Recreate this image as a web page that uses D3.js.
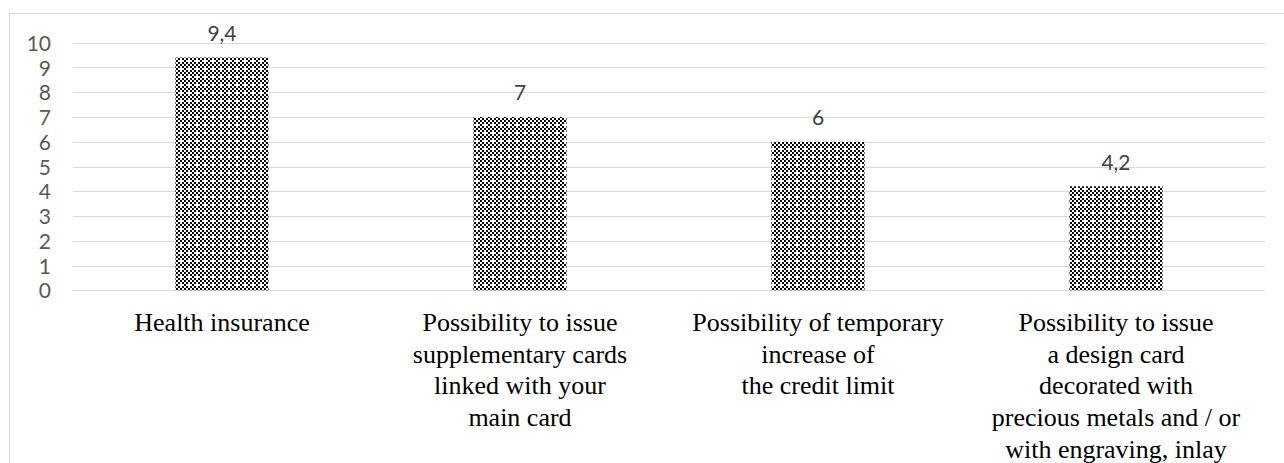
<!DOCTYPE html>
<html>
<head>
<meta charset="utf-8">
<script src="https://cdn.jsdelivr.net/npm/d3@7"></script>
<style>
  html, body { margin: 0; padding: 0; background: #fff; }
  svg { display: block; }
</style>
</head>
<body>
<svg id="chart" width="1284" height="463"></svg>
<script>
const categories = [
  "Health insurance",
  "Possibility to issue\nsupplementary cards\nlinked with your\nmain card",
  "Possibility of temporary\nincrease of\nthe credit limit",
  "Possibility to issue\na design card\ndecorated with\nprecious metals and / or\nwith engraving, inlay"
];
const values = [9.4, 7, 6, 4.2];
const valueLabels = ["9,4", "7", "6", "4,2"];
const yTicks = [0, 1, 2, 3, 4, 5, 6, 7, 8, 9, 10];

const W = 1284, H = 463;
const plot = { left: 73, right: 1265, top: 42.7, bottom: 290.3 };
const svg = d3.select("#chart");

// pattern fill
const defs = svg.append("defs");
const pat = defs.append("pattern")
  .attr("id", "dots").attr("patternUnits", "userSpaceOnUse")
  .attr("width", 8).attr("height", 8);
pat.append("rect").attr("width", 8).attr("height", 8).attr("fill", "#fff");
for (let i = 0; i < 4; i++) for (let j = 0; j < 4; j++) {
  if ((i + j) % 2 === 0) {
    const white = (i === 2 && j === 2);
    if (!white) pat.append("rect").attr("x", 2 * i).attr("y", 2 * j)
      .attr("width", 2).attr("height", 2).attr("fill", "#000");
  }
}

// outer chart border
svg.append("rect").attr("x", 9.5).attr("y", 13.5)
  .attr("width", W).attr("height", H)
  .attr("fill", "none").attr("stroke", "#d9d9d9").attr("stroke-width", 1);

const x = d3.scaleBand().domain(d3.range(categories.length))
  .range([plot.left, plot.right]).paddingInner(0.6875).paddingOuter(0.34375);
const y = d3.scaleLinear().domain([0, 10]).range([plot.bottom, plot.top]);

// gridlines
svg.append("g").selectAll("line").data(yTicks).join("line")
  .attr("x1", plot.left).attr("x2", plot.right)
  .attr("y1", d => Math.round(y(d)) + 0.5).attr("y2", d => Math.round(y(d)) + 0.5)
  .attr("stroke", "#d9d9d9").attr("stroke-width", 1);

// y axis labels
const yAxis = d3.axisLeft(y).tickValues(yTicks).tickSize(0).tickPadding(0);
const ya = svg.append("g").attr("transform", "translate(51,0)").call(yAxis);
ya.select(".domain").remove();
ya.selectAll("text")
  .attr("font-family", "Lato, 'Open Sans', sans-serif")
  .attr("font-size", 21).attr("fill", "#595959").attr("dy", "0.36em");

// bars
svg.append("g").selectAll("rect").data(values).join("rect")
  .attr("x", (d, i) => x(i)).attr("width", x.bandwidth())
  .attr("y", d => y(d)).attr("height", d => y(0) - y(d))
  .attr("fill", "url(#dots)");

// data labels
svg.append("g").selectAll("text").data(values).join("text")
  .attr("x", (d, i) => x(i) + x.bandwidth() / 2)
  .attr("y", d => y(d) - 16.5)
  .attr("text-anchor", "middle")
  .attr("font-family", "Lato, 'Open Sans', sans-serif")
  .attr("font-size", 21).attr("fill", "#404040")
  .text((d, i) => valueLabels[i]);

// category labels
const cl = svg.append("g").selectAll("text").data(categories).join("text")
  .attr("x", (d, i) => x(i) + x.bandwidth() / 2)
  .attr("y", 331)
  .attr("text-anchor", "middle")
  .attr("font-family", "'Liberation Serif', 'Times New Roman', serif")
  .attr("font-size", 26).attr("fill", "#000");
cl.each(function (d, i) {
  const t = d3.select(this);
  d.split("\n").forEach((line, k) => {
    t.append("tspan").attr("x", x(i) + x.bandwidth() / 2)
      .attr("dy", k === 0 ? 0 : 31.7).text(line);
  });
});
</script>
</body>
</html>
